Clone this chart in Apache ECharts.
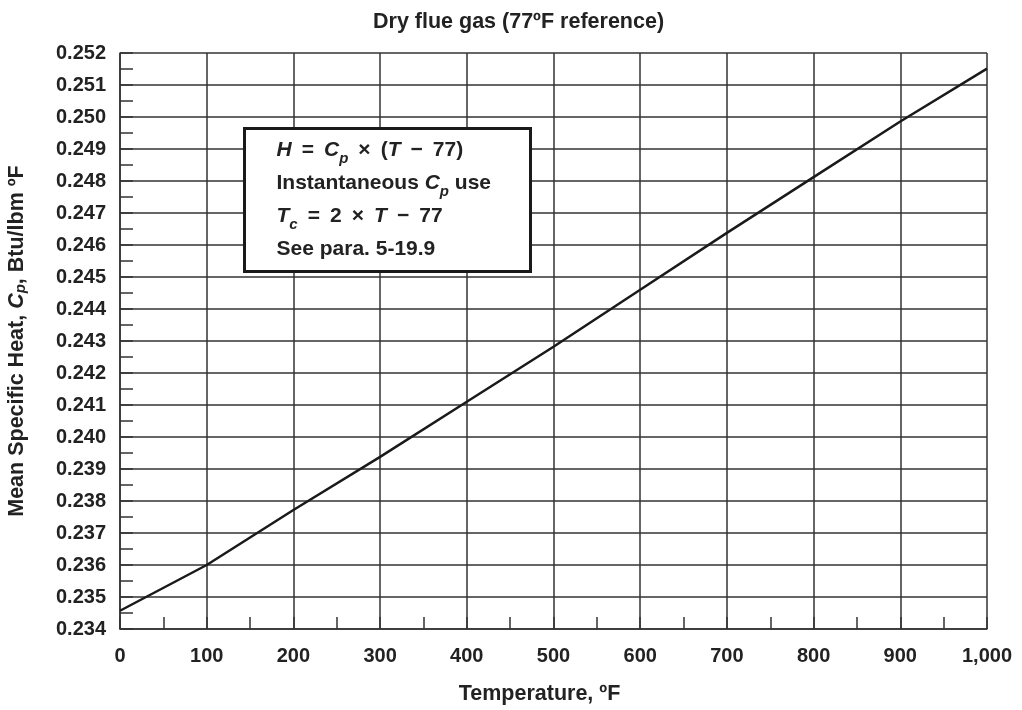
<!DOCTYPE html>
<html>
<head>
<meta charset="utf-8">
<script src="https://cdn.jsdelivr.net/npm/echarts@6/dist/echarts.min.js"></script>
<style>html,body{margin:0;padding:0;background:#fff}#c{width:1022px;height:710px}</style>
</head>
<body>
<div id="c"></div>
<script>
const temps = [0, 100, 200, 300, 400, 500, 600, 700, 800, 900, 1000];
const cpValues = [0.23457, 0.2360, 0.23772, 0.23938, 0.2411, 0.24282, 0.2446, 0.24638, 0.24812, 0.24986, 0.25151];
const yTicks = [0.234,0.235,0.236,0.237,0.238,0.239,0.240,0.241,0.242,0.243,0.244,0.245,0.246,0.247,0.248,0.249,0.250,0.251,0.252];
const titleText = 'Dry flue gas (77ºF reference)';
const xName = 'Temperature, ºF';

const FONT = '"Liberation Sans", Arial, Helvetica, sans-serif';
const TXT = '#222';
const chart = echarts.init(document.getElementById('c'), null, {renderer: 'canvas'});
const lineStyle = {color: '#333', width: 1.5};
const S = ' \u2009';

chart.setOption({
  animation: false,
  backgroundColor: '#fff',
  title: {
    text: titleText, left: 368, top: 6,
    textStyle: {fontFamily: FONT, fontSize: 21.5, fontWeight: 'bold', color: TXT}
  },
  grid: {left: 120, right: 35, top: 53, bottom: 81, containLabel: false, outerBoundsMode: 'none'},
  xAxis: {
    type: 'value', min: 0, max: 1000, interval: 100,
    name: xName, nameLocation: 'middle', nameGap: 54,
    nameTextStyle: {fontFamily: FONT, fontSize: 21.5, fontWeight: 'bold', color: TXT, padding: [0, 28, 0, 0]},
    axisLine: {show: true, lineStyle: lineStyle},
    axisTick: {show: true, inside: true, length: 12, lineStyle: lineStyle},
    minorTick: {show: true, splitNumber: 2, length: 12, lineStyle: lineStyle},
    splitLine: {show: true, lineStyle: lineStyle},
    axisLabel: {
      margin: 17, fontFamily: FONT, fontSize: 20, fontWeight: 'bold', color: TXT,
      formatter: v => v === 1000 ? '1,000' : String(v)
    }
  },
  yAxis: {
    type: 'value', min: yTicks[0], max: yTicks[yTicks.length-1], interval: 0.001,
    name: 'Mean Specific Heat, {i|C}{sub|p}{n|, Btu/lbm ºF}', nameLocation: 'middle', nameGap: 92, nameRotate: 90,
    nameTextStyle: {
      fontFamily: FONT, fontSize: 21.5, fontWeight: 'bold', color: TXT,
      rich: {
        i: {fontFamily: FONT, fontSize: 21.5, fontWeight: 'bold', fontStyle: 'italic', color: TXT, verticalAlign: 'middle'},
        sub: {fontFamily: FONT, fontSize: 15, fontWeight: 'bold', fontStyle: 'italic', color: TXT, verticalAlign: 'bottom', padding: [4, 0, 0, 0]},
        n: {fontFamily: FONT, fontSize: 21.5, fontWeight: 'bold', color: TXT, verticalAlign: 'middle'}
      }
    },
    axisLine: {show: true, lineStyle: lineStyle},
    axisTick: {show: true, inside: true, length: 13, lineStyle: lineStyle},
    minorTick: {show: true, splitNumber: 2, length: 13, lineStyle: lineStyle},
    splitLine: {show: true, lineStyle: lineStyle},
    axisLabel: {
      margin: 14, fontFamily: FONT, fontSize: 20, fontWeight: 'bold', color: TXT,
      formatter: v => v.toFixed(3)
    }
  },
  series: [{
    type: 'line',
    data: temps.map((t, i) => [t, cpValues[i]]),
    symbol: 'none',
    smooth: false,
    lineStyle: {color: '#1a1a1a', width: 2.5},
    z: 5
  }],
  graphic: [{
    type: 'group', left: 243, top: 127, z: 100,
    children: [
      {type: 'rect', z: 100, shape: {x: 0, y: 0, width: 286, height: 143},
       style: {fill: '#ffffff', stroke: '#1a1a1a', lineWidth: 3}},
      {type: 'text', z: 101, x: 32, y: 5,
       style: {
         text: '{i|H}{n|' + S + '=' + S + '}{i|C}{sub|p}{n|' + S + '×' + S + '(}{i|T}{n|' + S + '−' + S + '77)}\n{n|Instantaneous }{i|C}{sub|p}{n| use}\n{i|T}{sub|c}{n|' + S + '=' + S + '2' + S + '×' + S + '}{i|T}{n|' + S + '−' + S + '77}\n{n|See para. 5-19.9}',
         fontFamily: FONT, fontSize: 21, lineHeight: 33, fill: TXT,
         rich: {
           n: {fontFamily: FONT, fontSize: 21, fontWeight: 'bold', fill: TXT, lineHeight: 33},
           i: {fontFamily: FONT, fontSize: 21, fontWeight: 'bold', fontStyle: 'italic', fill: TXT, lineHeight: 33},
           sub: {fontFamily: FONT, fontSize: 15, fontWeight: 'bold', fontStyle: 'italic', fill: TXT, lineHeight: 33, verticalAlign: 'bottom', padding: [4, 0, 0, 0]}
         }
       }}
    ]
  }]
});
</script>
</body>
</html>
